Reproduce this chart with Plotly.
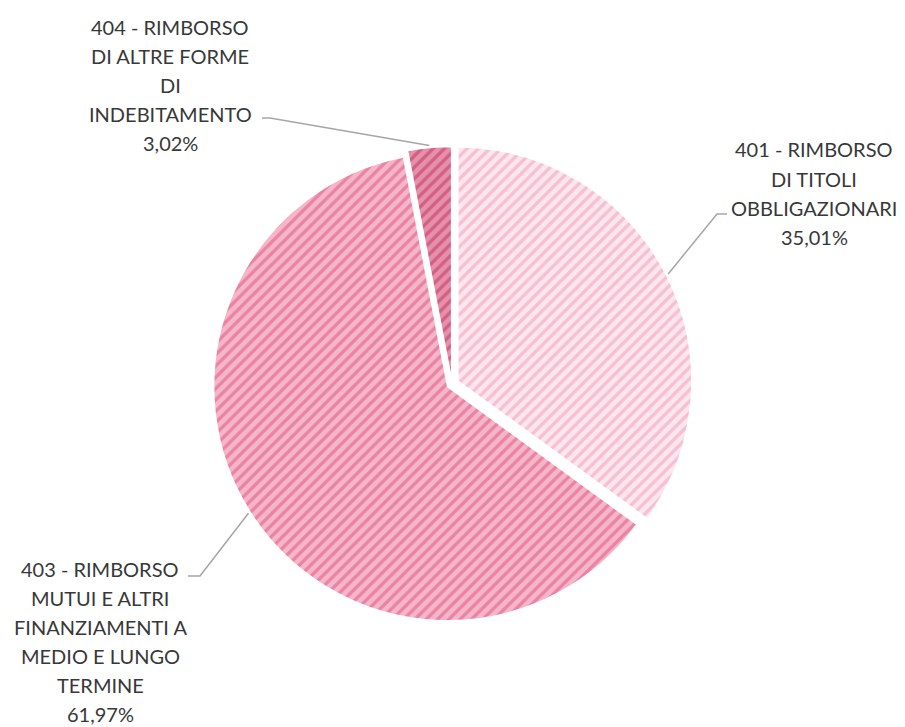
import math
import plotly.graph_objects as go

# ---- data ----
codes = ["401", "403", "404"]
label_lines = [
    ["401 - RIMBORSO", "DI TITOLI", "OBBLIGAZIONARI"],
    ["403 - RIMBORSO", "MUTUI E ALTRI", "FINANZIAMENTI A", "MEDIO E LUNGO", "TERMINE"],
    ["404 - RIMBORSO", "DI ALTRE FORME", "DI", "INDEBITAMENTO"],
]
values = [35.01, 61.97, 3.02]
pct_text = ["35,01%", "61,97%", "3,02%"]

# ---- styling ----
OFF = 8                      # page body margin
W, H = 905 - OFF, 727 - OFF
fg_colors = ["#ef9ab4", "#de4f7b", "#bd3059"]
bg_colors = ["#fde6ee", "#f6b6ca", "#e690ac"]
pulls = [0.028, 0.022, 0.015]

CX, CY, R = 452 - OFF, 384 - OFF, 234          # pie geometry in pixels
maxpull = max(pulls)
half = R * (1 + maxpull)
dom_x = [(CX - half) / W, (CX + half) / W]
dom_y = [1 - (CY + half) / H, 1 - (CY - half) / H]

fig = go.Figure(go.Pie(
    labels=codes,
    values=values,
    sort=False,
    direction="clockwise",
    rotation=0,
    pull=pulls,
    textinfo="none",
    hoverinfo="label+percent",
    domain=dict(x=dom_x, y=dom_y),
    marker=dict(
        colors=bg_colors,
        line=dict(color="white", width=1.5),
        pattern=dict(shape="/", fgcolor=fg_colors, bgcolor=bg_colors,
                     size=8, solidity=0.42, fillmode="overlay"),
    ),
    showlegend=False,
))

# label centers (px), line spacing, leader elbow (start x, y, end x)
label_pos = [(814, 193), (100, 641), (170, 85)]
LINE_H = 29
elbow = [(727, 214, 717), (188, 576, 200), (262, 118, 270)]
FONT = dict(family="Lato, Open Sans, sans-serif", size=20, color="#383838")

total = sum(values)
start = 0.0
shapes = []
annotations = []
for i, v in enumerate(values):
    mid = start + v / total * 360 / 2
    start += v / total * 360
    a = math.radians(mid)
    off = pulls[i] * R
    px = CX + (R + off + 2) * math.sin(a)
    py = CY - (R + off + 2) * math.cos(a)
    ex0, ey, ex1 = elbow[i][0] - OFF, elbow[i][1] - OFF, elbow[i][2] - OFF
    path = f"M {ex0/W} {1-ey/H} L {ex1/W} {1-ey/H} L {px/W} {1-py/H}"
    shapes.append(dict(type="path", xref="paper", yref="paper", path=path,
                       line=dict(color="#a6a6a6", width=1.5)))
    lines = label_lines[i] + [pct_text[i]]
    lx, ly = label_pos[i][0] - OFF, label_pos[i][1] - OFF
    n = len(lines)
    for k, t in enumerate(lines):
        yk = ly + (k - (n - 1) / 2) * LINE_H
        annotations.append(dict(
            x=lx / W, y=1 - yk / H, xref="paper", yref="paper",
            text=t, showarrow=False,
            xanchor="center", yanchor="middle", align="center",
            font=FONT,
        ))

fig.update_layout(
    width=W, height=H,
    margin=dict(l=0, r=0, t=0, b=0),
    paper_bgcolor="white", plot_bgcolor="white",
    shapes=shapes, annotations=annotations,
)

fig.write_html("out.html")
